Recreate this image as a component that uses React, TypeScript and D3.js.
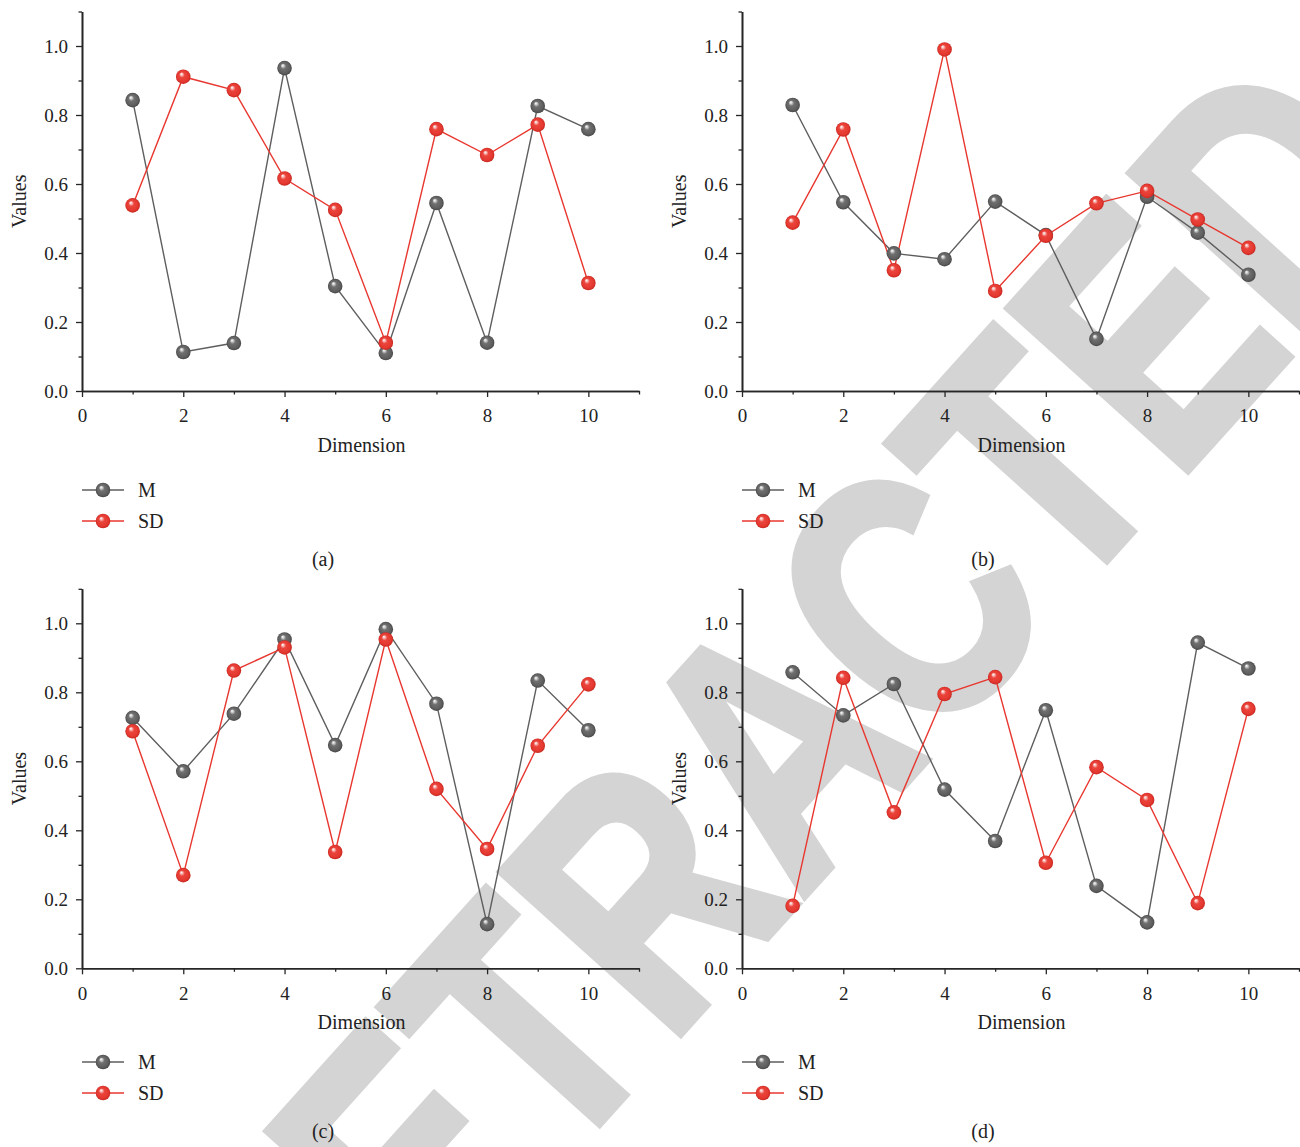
import React, { useEffect, useRef } from 'react';
import * as d3 from 'd3';

// Dimension indices shared by all four panels
const dimensions = [1, 2, 3, 4, 5, 6, 7, 8, 9, 10];

// Panel (a)
const meanA = [0.843, 0.113, 0.139, 0.936, 0.304, 0.110, 0.545, 0.140, 0.826, 0.759];
const sdA = [0.538, 0.911, 0.872, 0.616, 0.525, 0.140, 0.759, 0.684, 0.772, 0.313];

// Panel (b)
const meanB = [0.829, 0.547, 0.399, 0.382, 0.549, 0.452, 0.151, 0.563, 0.459, 0.337];
const sdB = [0.488, 0.758, 0.350, 0.990, 0.290, 0.450, 0.544, 0.580, 0.497, 0.415];

// Panel (c)
const meanC = [0.726, 0.571, 0.738, 0.953, 0.647, 0.983, 0.767, 0.128, 0.834, 0.690];
const sdC = [0.687, 0.270, 0.863, 0.930, 0.337, 0.953, 0.520, 0.346, 0.645, 0.823];

// Panel (d)
const meanD = [0.858, 0.733, 0.824, 0.518, 0.369, 0.748, 0.239, 0.133, 0.944, 0.869];
const sdD = [0.181, 0.842, 0.452, 0.795, 0.844, 0.306, 0.583, 0.488, 0.189, 0.752];

const xMajorTicks = [0, 2, 4, 6, 8, 10];
const xMinorTicks = [1, 3, 5, 7, 9, 11];
const yMajorTicks = [0, 0.2, 0.4, 0.6, 0.8, 1.0];
const yMinorTicks = [0.1, 0.3, 0.5, 0.7, 0.9, 1.1];

const seriesNames = ['M', 'SD'];
const panelLabels = ['(a)', '(b)', '(c)', '(d)'];
const watermark = 'RETRACTED';

const W = 1300;
const H = 1147;
const SERIF = "'Liberation Serif', 'Times New Roman', serif";
const GREY = '#5e5e5e';
const RED = '#e8372f';

export default function App() {
  const ref = useRef<SVGSVGElement | null>(null);

  useEffect(() => {
    const svg = d3.select(ref.current);
    svg.selectAll('*').remove();

    const defs = svg.append('defs');
    const makeBall = (id: string, stops: [number, string][]) => {
      const g = defs
        .append('radialGradient')
        .attr('id', id)
        .attr('cx', '50%')
        .attr('cy', '50%')
        .attr('r', '50%')
        .attr('fx', '36%')
        .attr('fy', '30%');
      stops.forEach(([o, c]) => g.append('stop').attr('offset', `${o}%`).attr('stop-color', c));
    };
    makeBall('ballGrey', [
      [0, '#ffffff'],
      [16, '#cfcfcf'],
      [38, '#707070'],
      [80, '#5e5e5e'],
      [100, '#474747'],
    ]);
    makeBall('ballRed', [
      [0, '#ffffff'],
      [16, '#f8bcb8'],
      [38, '#ea443c'],
      [80, '#e4382f'],
      [100, '#c42720'],
    ]);

    // background watermark, condensed bold lettering on a diagonal
    svg
      .append('text')
      .attr('transform', 'translate(772,743) rotate(-48) scale(0.78,1)')
      .attr('text-anchor', 'middle')
      .attr('dy', '0.36em')
      .attr('font-family', "'Liberation Sans', Arial, sans-serif")
      .attr('font-weight', 700)
      .attr('font-size', 350)
      .attr('fill', '#d4d4d4')
      .attr('stroke', '#d4d4d4')
      .attr('stroke-width', 9)
      .attr('stroke-linejoin', 'miter')
      .text(watermark);

    const panels = [
      { M: meanA, SD: sdA, ox: 0, oy: 0, ly: 490, cy: 566 },
      { M: meanB, SD: sdB, ox: 660, oy: 0, ly: 490, cy: 566 },
      { M: meanC, SD: sdC, ox: 0, oy: 577.3, ly: 1062, cy: 1138 },
      { M: meanD, SD: sdD, ox: 660, oy: 577.3, ly: 1062, cy: 1138 },
    ];

    panels.forEach((p, idx) => {
      const g = svg.append('g');
      const x = d3.scaleLinear().domain([0, 11]).range([p.ox + 82, p.ox + 639]);
      const y = d3.scaleLinear().domain([0, 1.1]).range([p.oy + 391, p.oy + 11.5]);

      const styleAxis = (sel: any) => {
        sel.attr('font-family', SERIF).attr('font-size', 19);
        sel.selectAll('path.domain').attr('stroke', '#262626').attr('stroke-width', 1.6);
        sel.selectAll('.tick line').attr('stroke', '#262626').attr('stroke-width', 1.3);
        sel
          .selectAll('.tick text')
          .attr('font-family', SERIF)
          .attr('font-size', 19)
          .attr('fill', '#222');
      };

      // x axis
      const xMinor = g
        .append('g')
        .attr('transform', `translate(0,${y(0)})`)
        .call(d3.axisBottom(x).tickValues(xMinorTicks).tickSize(3.5).tickSizeOuter(0).tickFormat(() => ''));
      styleAxis(xMinor);
      const xAxis = g
        .append('g')
        .attr('transform', `translate(0,${y(0)})`)
        .call(d3.axisBottom(x).tickValues(xMajorTicks).tickSize(6).tickSizeOuter(0).tickPadding(12).tickFormat(d3.format('d')));
      styleAxis(xAxis);

      // y axis
      const yMinor = g
        .append('g')
        .attr('transform', `translate(${x(0)},0)`)
        .call(d3.axisLeft(y).tickValues(yMinorTicks).tickSize(3.5).tickSizeOuter(0).tickFormat(() => ''));
      styleAxis(yMinor);
      const yAxis = g
        .append('g')
        .attr('transform', `translate(${x(0)},0)`)
        .call(d3.axisLeft(y).tickValues(yMajorTicks).tickSize(6).tickSizeOuter(0).tickPadding(8).tickFormat(d3.format('.1f')));
      styleAxis(yAxis);

      // axis titles
      g.append('text')
        .attr('x', (x(0) + x(11)) / 2 + 1)
        .attr('y', p.oy + 452)
        .attr('text-anchor', 'middle')
        .attr('font-family', SERIF)
        .attr('font-size', 20)
        .attr('fill', '#222')
        .text('Dimension');
      g.append('text')
        .attr('transform', `translate(${p.ox + 26},${(y(0) + y(1.1)) / 2}) rotate(-90)`)
        .attr('text-anchor', 'middle')
        .attr('font-family', SERIF)
        .attr('font-size', 20)
        .attr('fill', '#222')
        .text('Values');

      // series
      const series = [
        { name: seriesNames[0], vals: p.M, color: GREY, fill: 'url(#ballGrey)' },
        { name: seriesNames[1], vals: p.SD, color: RED, fill: 'url(#ballRed)' },
      ];
      const line = d3
        .line<number>()
        .x((_, i) => x(dimensions[i]))
        .y((d) => y(d));

      series.forEach((s) => {
        g.append('path')
          .attr('d', line(s.vals) as string)
          .attr('fill', 'none')
          .attr('stroke', s.color)
          .attr('stroke-width', 1.4);
      });
      series.forEach((s) => {
        g.selectAll(null)
          .data(s.vals)
          .enter()
          .append('circle')
          .attr('cx', (_, i) => x(dimensions[i]))
          .attr('cy', (d) => y(d))
          .attr('r', 7.3)
          .attr('fill', s.fill);
      });

      // legend
      series.forEach((s, i) => {
        const ly = p.ly + i * 31;
        g.append('line')
          .attr('x1', p.ox + 82)
          .attr('x2', p.ox + 124)
          .attr('y1', ly)
          .attr('y2', ly)
          .attr('stroke', s.color)
          .attr('stroke-width', 1.4);
        g.append('circle').attr('cx', p.ox + 103).attr('cy', ly).attr('r', 7.3).attr('fill', s.fill);
        g.append('text')
          .attr('x', p.ox + 138)
          .attr('y', ly + 7)
          .attr('font-family', SERIF)
          .attr('font-size', 20)
          .attr('fill', '#222')
          .text(s.name);
      });

      // panel caption
      g.append('text')
        .attr('x', p.ox + 323)
        .attr('y', p.cy)
        .attr('text-anchor', 'middle')
        .attr('font-family', SERIF)
        .attr('font-size', 20)
        .attr('fill', '#222')
        .text(panelLabels[idx]);
    });
  }, []);

  return (
    <svg
      ref={ref}
      width={W}
      height={H}
      viewBox={`0 0 ${W} ${H}`}
      style={{ position: 'absolute', left: 0, top: 0, background: '#fff', display: 'block' }}
    />
  );
}
